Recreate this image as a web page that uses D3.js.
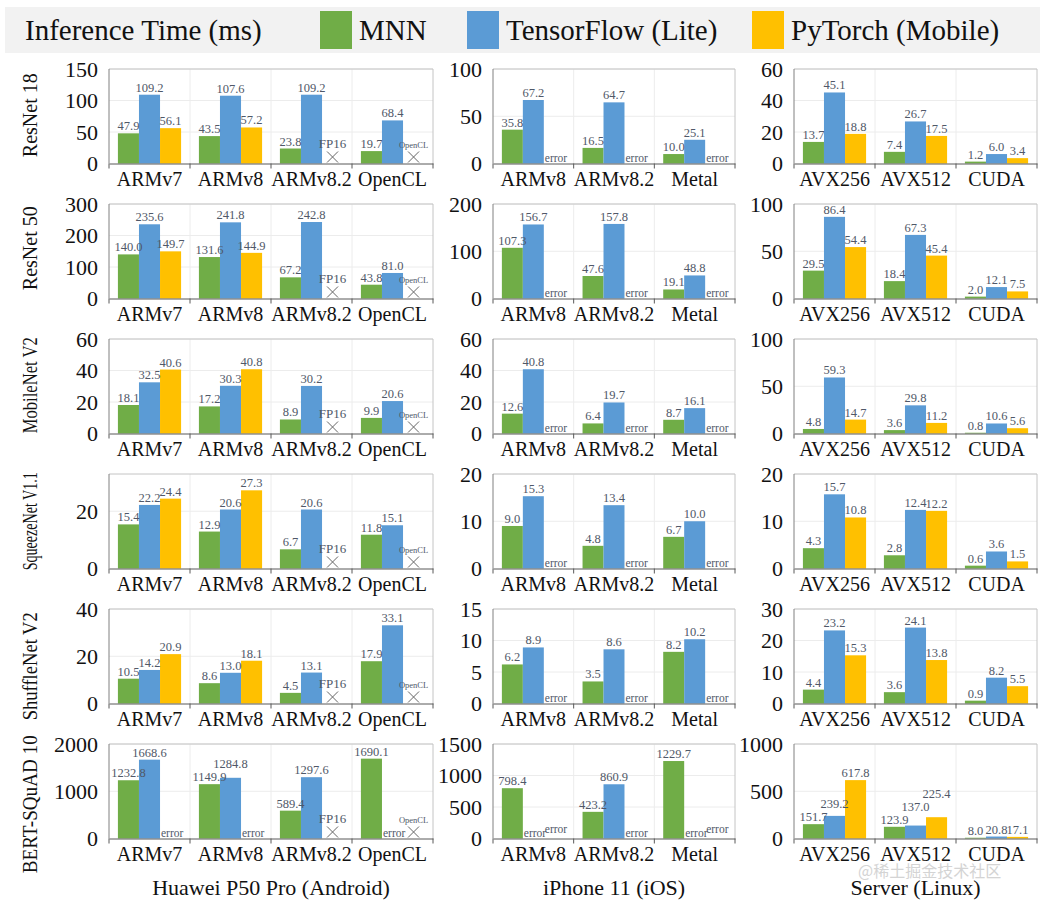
<!DOCTYPE html>
<html>
<head>
<meta charset="utf-8">
<script src="https://cdn.jsdelivr.net/npm/d3@7"></script>
<style>
  body { margin: 0; background: #fff; }
  text { font-family: "Liberation Serif", "Times New Roman", serif; }
</style>
</head>
<body>
<svg id="chart" width="1042" height="904"></svg>
<script>
const frameworks = ["MNN", "TensorFlow (Lite)", "PyTorch (Mobile)"];
const models = ["ResNet 18", "ResNet 50", "MobileNet V2", "SqueezeNet V1.1", "ShuffleNet V2", "BERT-SQuAD 10"];
const platforms = ["Huawei P50 Pro (Android)", "iPhone 11 (iOS)", "Server (Linux)"];

const androidCats = ["ARMv7", "ARMv8", "ARMv8.2", "OpenCL"];
const iosCats = ["ARMv8", "ARMv8.2", "Metal"];
const serverCats = ["AVX256", "AVX512", "CUDA"];

// one row per model, one value per category; strings mark a missing result
const androidMNN = [
  [47.9, 43.5, 23.8, 19.7], [140.0, 131.6, 67.2, 43.8], [18.1, 17.2, 8.9, 9.9],
  [15.4, 12.9, 6.7, 11.8], [10.5, 8.6, 4.5, 17.9], [1232.8, 1149.9, 589.4, 1690.1]
];
const androidTF = [
  [109.2, 107.6, 109.2, 68.4], [235.6, 241.8, 242.8, 81.0], [32.5, 30.3, 30.2, 20.6],
  [22.2, 20.6, 20.6, 15.1], [14.2, 13.0, 13.1, 33.1], [1668.6, 1284.8, 1297.6, "error"]
];
const androidPT = [
  [56.1, 57.2, "FP16", "OpenCL"], [149.7, 144.9, "FP16", "OpenCL"], [40.6, 40.8, "FP16", "OpenCL"],
  [24.4, 27.3, "FP16", "OpenCL"], [20.9, 18.1, "FP16", "OpenCL"], ["error", "error", "FP16", "OpenCL"]
];
const androidMax = [150, 300, 60, 33, 40, 2000];
const androidTicks = [[0, 50, 100, 150], [0, 100, 200, 300], [0, 20, 40, 60], [0, 20], [0, 20, 40], [0, 1000, 2000]];

const iosMNN = [
  [35.8, 16.5, 10.0], [107.3, 47.6, 19.1], [12.6, 6.4, 8.7],
  [9.0, 4.8, 6.7], [6.2, 3.5, 8.2], [798.4, 423.2, 1229.7]
];
const iosTF = [
  [67.2, 64.7, 25.1], [156.7, 157.8, 48.8], [40.8, 19.7, 16.1],
  [15.3, 13.4, 10.0], [8.9, 8.6, 10.2], ["error", 860.9, "error"]
];
const iosPT = [
  ["error", "error", "error"], ["error", "error", "error"], ["error", "error", "error"],
  ["error", "error", "error"], ["error", "error", "error"], ["error", "error", "error"]
];
const iosMax = [100, 200, 60, 20, 15, 1500];
const iosTicks = [[0, 50, 100], [0, 100, 200], [0, 20, 40, 60], [0, 10, 20], [0, 5, 10, 15], [0, 500, 1000, 1500]];

const serverMNN = [
  [13.7, 7.4, 1.2], [29.5, 18.4, 2.0], [4.8, 3.6, 0.8],
  [4.3, 2.8, 0.6], [4.4, 3.6, 0.9], [151.7, 123.9, 8.0]
];
const serverTF = [
  [45.1, 26.7, 6.0], [86.4, 67.3, 12.1], [59.3, 29.8, 10.6],
  [15.7, 12.4, 3.6], [23.2, 24.1, 8.2], [239.2, 137.0, 20.8]
];
const serverPT = [
  [18.8, 17.5, 3.4], [54.4, 45.4, 7.5], [14.7, 11.2, 5.6],
  [10.8, 12.2, 1.5], [15.3, 13.8, 5.5], [617.8, 225.4, 17.1]
];
const serverMax = [60, 100, 100, 20, 30, 1000];
const serverTicks = [[0, 20, 40, 60], [0, 50, 100], [0, 50, 100], [0, 10, 20], [0, 10, 20, 30], [0, 500, 1000]];

const colors = ["#70ad47", "#5b9bd5", "#ffc000"];
const labelColor = "#505868";
const serif = '"Liberation Serif", "Times New Roman", serif';

const columns = [
  { cats: androidCats, series: [androidMNN, androidTF, androidPT], max: androidMax, ticks: androidTicks, left: 109, right: 433 },
  { cats: iosCats, series: [iosMNN, iosTF, iosPT], max: iosMax, ticks: iosTicks, left: 493, right: 735 },
  { cats: serverCats, series: [serverMNN, serverTF, serverPT], max: serverMax, ticks: serverTicks, left: 794, right: 1037 }
];
const rowTop = 69, rowStep = 135, rowH = 94.5;
// row titles are squeezed to fit, as in the original figure
const rowLabelLen = [88, 88, 96, 98, 108, 138];
const rowLabelShift = [-1, -3, -1, 0, 10, 13];

const svg = d3.select("#chart");
svg.append("rect").attr("width", 1042).attr("height", 904).attr("fill", "#fff");

// legend band
const legend = svg.append("g");
legend.append("rect").attr("x", 5).attr("y", 7).attr("width", 1035).attr("height", 46).attr("fill", "#f2f2f2");
legend.append("text").attr("x", 25).attr("y", 40).attr("font-size", 29).attr("fill", "#111").text("Inference Time (ms)");
const legendX = [320, 467, 752];
frameworks.forEach((f, k) => {
  legend.append("rect").attr("x", legendX[k]).attr("y", 11).attr("width", 32).attr("height", 38).attr("fill", colors[k]);
  legend.append("text").attr("x", legendX[k] + 39).attr("y", 40).attr("font-size", 29).attr("fill", "#111").text(f);
});

models.forEach((model, r) => {
  const top = rowTop + r * rowStep, bottom = top + rowH;

  const rl = svg.append("text")
    .attr("transform", `translate(37,${(top + bottom) / 2 + rowLabelShift[r]}) rotate(-90)`)
    .attr("text-anchor", "middle").attr("font-size", 20).attr("fill", "#111")
    .text(model);
  if (rl.node().getComputedTextLength() > rowLabelLen[r]) {
    rl.attr("textLength", rowLabelLen[r]).attr("lengthAdjust", "spacingAndGlyphs");
  }

  columns.forEach((col, c) => {
    const g = svg.append("g");
    const x = d3.scaleBand().domain(col.cats).range([col.left, col.right]);
    const bw = x.bandwidth();
    const xi = d3.scaleBand().domain([0, 1, 2]).range([bw * 0.11, bw * 0.89]);
    const y = d3.scaleLinear().domain([0, col.max[r]]).range([bottom, top]);

    // grid
    g.selectAll(".hgrid").data(col.ticks[r].filter(t => t > 0)).join("line")
      .attr("x1", col.left).attr("x2", col.right)
      .attr("y1", d => y(d)).attr("y2", d => y(d))
      .attr("stroke", "#ececec");
    g.selectAll(".vgrid").data(col.cats.slice(1)).join("line")
      .attr("x1", d => x(d)).attr("x2", d => x(d))
      .attr("y1", top).attr("y2", bottom)
      .attr("stroke", "#ececec");
    // frame
    g.append("path")
      .attr("d", `M${col.left},${top}H${col.right}V${bottom}`)
      .attr("fill", "none").attr("stroke", "#c4c4c4");
    g.append("line").attr("x1", col.left).attr("x2", col.left).attr("y1", top).attr("y2", bottom)
      .attr("stroke", "#808080");

    // y axis
    const ya = g.append("g").attr("transform", `translate(${col.left},0)`)
      .call(d3.axisLeft(y).tickValues(col.ticks[r]).tickSize(0).tickPadding(11).tickFormat(d3.format("d")));
    ya.select(".domain").remove();
    ya.selectAll("text").attr("font-size", 22).attr("fill", "#111").style("font-family", serif);

    // bars first, labels on top
    const bars = g.append("g"), labels = g.append("g");
    col.cats.forEach((cat, i) => {
      let prev = null;
      col.series.forEach((s, k) => {
        const v = s[r][i];
        const x0 = x(cat) + xi(k), cx = x0 + xi.bandwidth() / 2;
        if (typeof v === "number") {
          bars.append("rect").attr("x", x0).attr("y", y(v))
            .attr("width", xi.bandwidth()).attr("height", bottom - y(v)).attr("fill", colors[k]);
          const t = labels.append("text").attr("x", cx)
            .attr("text-anchor", "middle").attr("font-size", 12.5).attr("fill", labelColor)
            .text(v.toFixed(1));
          const w = t.node().getComputedTextLength();
          let base = y(v) - 3;
          // lift a label that would collide with its left neighbour
          if (prev && cx - w / 2 < prev.right - 1 && Math.abs(base - prev.base) < 12.5) {
            base = Math.min(base, prev.base - 13);
          }
          t.attr("y", base);
          prev = { right: cx + w / 2, base: base };
        } else if (v === "error") {
          let base = bottom - 2;
          if (prev && prev.error) base -= 4;
          labels.append("text").attr("x", x0 + 1).attr("y", base)
            .attr("font-size", 11.5).attr("fill", labelColor).text("error");
          prev = { right: x0 + 24, base: base, error: true };
        } else {
          labels.append("text").attr("x", cx).attr("y", bottom - 16)
            .attr("text-anchor", "middle").attr("font-size", v === "FP16" ? 13 : 8.5)
            .attr("fill", labelColor).text(v);
          labels.append("path")
            .attr("d", `M${cx - 5.5},${bottom - 12}L${cx + 5.5},${bottom - 1}M${cx + 5.5},${bottom - 12}L${cx - 5.5},${bottom - 1}`)
            .attr("stroke", "#666").attr("stroke-width", 1).attr("fill", "none");
          prev = null;
        }
      });
    });

    // x axis
    const xa = g.append("g").attr("transform", `translate(0,${bottom})`)
      .call(d3.axisBottom(x).tickSize(0).tickPadding(8));
    xa.select(".domain").attr("stroke", "#595959");
    xa.selectAll("text").attr("font-size", 20).attr("fill", "#111").attr("dy", "0.71em").style("font-family", serif);
    g.selectAll(".xtick").data(col.cats.map(d => x(d)).concat([col.right])).join("line")
      .attr("x1", d => d).attr("x2", d => d)
      .attr("y1", bottom).attr("y2", bottom + 5)
      .attr("stroke", "#595959");

    if (r === models.length - 1) {
      svg.append("text")
        .attr("x", (col.left + col.right) / 2).attr("y", 895)
        .attr("text-anchor", "middle").attr("font-size", 22).attr("fill", "#111")
        .text(platforms[c]);
    }
  });
});

svg.append("text").attr("x", 858).attr("y", 877)
  .attr("font-size", 16).attr("fill", "#d4d4d4")
  .style("font-family", '"Noto Sans CJK SC", sans-serif')
  .text("@稀土掘金技术社区");
</script>
</body>
</html>
